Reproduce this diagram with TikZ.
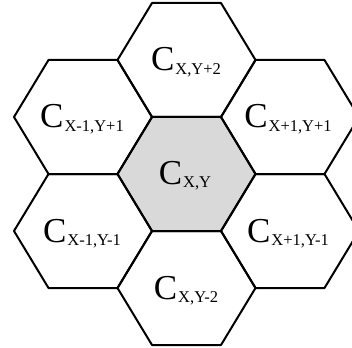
\documentclass[tikz,border=0pt]{standalone}
\usepackage{fontspec}
\setmainfont{Liberation Serif}

\definecolor{cellgray}{HTML}{D9D9D9}

\newcommand\cellsub[1]{\hspace{1pt}\raisebox{-3.6pt}{\fontsize{16.5}{17}\selectfont #1}}

\tikzset{
  hexline/.style={line width=2pt, line join=round, line cap=round},
  celltext/.style={anchor=base, inner sep=0pt, font=\fontsize{35}{37}\selectfont}
}

\begin{document}
\begin{tikzpicture}[x=1pt, y=-1pt]
  \useasboundingbox (0,0) rectangle (352,347);
  \clip (0,0) rectangle (352,347);

  % centre cell
  \fill[cellgray] (186.5-69,174) -- (186.5-34.5,174-57) -- (186.5+34.5,174-57)
    -- (186.5+69,174) -- (186.5+34.5,174+57) -- (186.5-34.5,174+57) -- cycle;

  % the six neighbours and the centre
  \foreach \cx/\cy in {186.5/60, 186.5/288, 83/117, 83/231, 290/117, 290/231, 186.5/174}
    \draw[hexline] (\cx-69,\cy) -- (\cx-34.5,\cy-57) -- (\cx+34.5,\cy-57)
      -- (\cx+69,\cy) -- (\cx+34.5,\cy+57) -- (\cx-34.5,\cy+57) -- cycle;

  \node[celltext] (cXY)   at (185,184)   {C\cellsub{X,Y}};
  \node[celltext] (cXYp2) at (186,71)    {C\cellsub{X,Y+2}};
  \node[celltext] (cXYm2) at (186,299)   {C\cellsub{X,Y-2}};
  \node[celltext] (cXmYp) at (82,128)    {C\cellsub{X-1,Y+1}};
  \node[celltext] (cXmYm) at (82,242)    {C\cellsub{X-1,Y-1}};
  \node[celltext] (cXpYp) at (288,128)   {C\cellsub{X+1,Y+1}};
  \node[celltext] (cXpYm) at (288,242)   {C\cellsub{X+1,Y-1}};
\end{tikzpicture}
\end{document}
